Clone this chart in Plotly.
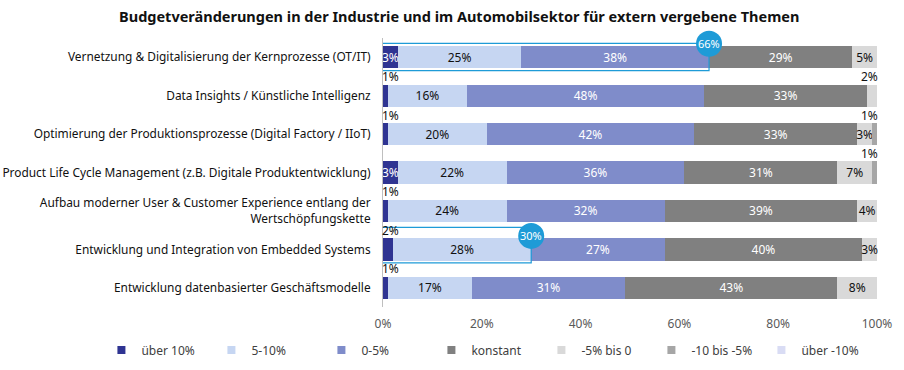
import plotly.graph_objects as go

categories = [
    "Vernetzung & Digitalisierung der Kernprozesse (OT/IT)",
    "Data Insights / Künstliche Intelligenz",
    "Optimierung der Produktionsprozesse (Digital Factory / IIoT)",
    "Product Life Cycle Management (z.B. Digitale Produktentwicklung)",
    "Aufbau moderner User & Customer Experience entlang der<br>Wertschöpfungskette",
    "Entwicklung und Integration von Embedded Systems",
    "Entwicklung datenbasierter Geschäftsmodelle",
]

series_names = ["über 10%", "5-10%", "0-5%", "konstant", "-5% bis 0", "-10 bis -5%", "über -10%"]
ueber_10 = [3, 1, 1, 3, 1, 2, 1]
p5_10 = [25, 16, 20, 22, 24, 28, 17]
p0_5 = [38, 48, 42, 36, 32, 27, 31]
konstant = [29, 33, 33, 31, 39, 40, 43]
m5_0 = [5, 2, 3, 7, 4, 3, 8]
m10_5 = [0, 0, 1, 1, 0, 0, 0]
ueber_m10 = [0, 0, 0, 0, 0, 0, 0]
series_values = [ueber_10, p5_10, p0_5, konstant, m5_0, m10_5, ueber_m10]

colors = ["#2F3492", "#C6D6F2", "#7F8CCA", "#808080", "#D9D9D9", "#A6A6A6", "#D9DCF4"]
text_colors = ["white", "#111111", "white", "white", "#111111", "#111111", "#111111"]

# highlighted rows (index, number of positive series summed)
highlights = [(0, 3), (5, 2)]

title = "Budgetveränderungen in der Industrie und im Automobilsektor für extern vergebene Themen"
x_ticks = [0, 20, 40, 60, 80, 100]

FONT = "Segoe UI, Noto Sans, sans-serif"

fig = go.Figure()
for name, vals, col, tcol in zip(series_names, series_values, colors, text_colors):
    fig.add_trace(go.Bar(
        y=categories, x=vals, name=name, orientation="h",
        marker=dict(color=col, line=dict(width=0)),
        text=[f"{v}%" if v >= 3 else "" for v in vals],
        textposition="inside", insidetextanchor="middle", textangle=0,
        textfont=dict(color=tcol, size=12, family=FONT),
        cliponaxis=False, hoverinfo="skip", showlegend=False,
    ))
# legend entries with small square swatches
for name, col in zip(series_names, colors):
    fig.add_trace(go.Scatter(x=[None], y=[None], mode="markers", name=name,
                             marker=dict(symbol="square", size=8, color=col),
                             hoverinfo="skip"))

annotations = []
# small values shown above bars
for i in range(len(categories)):
    cum = 0
    for s, vals in enumerate(series_values):
        v = vals[i]
        if 0 < v < 3:
            if cum < 50:
                annotations.append(dict(x=cum, y=i, xref="x", yref="y", text=f"{v}%",
                                        showarrow=False, xanchor="left", yanchor="middle",
                                        yshift=19, xshift=-3,
                                        font=dict(size=12, color="#111111", family=FONT)))
            else:
                annotations.append(dict(x=cum + v, y=i, xref="x", yref="y", text=f"{v}%",
                                        showarrow=False, xanchor="right", yanchor="middle",
                                        yshift=19, xshift=3,
                                        font=dict(size=12, color="#111111", family=FONT)))
        cum += v

n = len(categories)
shapes = []
blue = "#1E9BD7"
for row, nser in highlights:
    total = sum(series_values[s][row] for s in range(nser))
    top = -0.36 if row == 0 else -0.57
    shapes.append(dict(type="rect", xref="x", yref="y", x0=-1, x1=total, y0=row + top, y1=row + 0.35,
                       line=dict(color=blue, width=1.2), fillcolor="rgba(0,0,0,0)"))
    yc = row - 0.35
    # badge in paper coordinates so it is not clipped by the plot area
    px = total / 100.0
    py = 1 - (yc + 0.5) / n
    shapes.append(dict(type="circle", xref="paper", yref="paper", xsizemode="pixel", ysizemode="pixel",
                       xanchor=px, yanchor=py, x0=-13, x1=13, y0=-13, y1=13,
                       fillcolor=blue, line=dict(width=0), layer="above"))
    annotations.append(dict(x=px, y=py, xref="paper", yref="paper", text=f"{total}%", showarrow=False,
                            xanchor="center", yanchor="middle",
                            font=dict(size=11, color="white", family=FONT)))

fig.update_layout(
    barmode="stack",
    bargap=0.42,
    width=904, height=370,
    margin=dict(l=383, r=27, t=38, b=63, autoexpand=False),
    paper_bgcolor="white", plot_bgcolor="white",
    font=dict(family=FONT, size=12, color="#111111"),
    title=dict(text="<b>" + title + "</b>", x=0.508, xanchor="center", y=0.955, yanchor="middle",
               font=dict(size=14.5, color="#111111", family=FONT)),
    uniformtext=dict(minsize=12, mode="show"),
    legend=dict(orientation="h", xref="paper", yref="paper", x=-0.57, xanchor="left",
                y=-0.16, yanchor="middle", entrywidth=65, entrywidthmode="pixels",
                itemwidth=30, traceorder="normal",
                font=dict(size=12, color="#404040", family=FONT)),
    shapes=shapes,
    annotations=annotations,
    showlegend=True,
)
fig.update_xaxes(range=[0, 100], tickvals=x_ticks, ticktext=[f"{t}%" for t in x_ticks],
                 showgrid=False, zeroline=False, showline=False,
                 tickfont=dict(size=12, color="#595959", family=FONT), ticklabelstandoff=8)
fig.update_yaxes(range=[n - 0.5, -0.5], autorange=False, showgrid=False, showline=True,
                 linecolor="#BFBFBF", linewidth=1, ticks="", ticklabelstandoff=9,
                 tickfont=dict(size=11.9, color="#111111", family=FONT))

fig.write_html("out.html", config={"displayModeBar": False},
               post_script="document.body.style.margin='0';document.body.style.overflow='hidden';")
